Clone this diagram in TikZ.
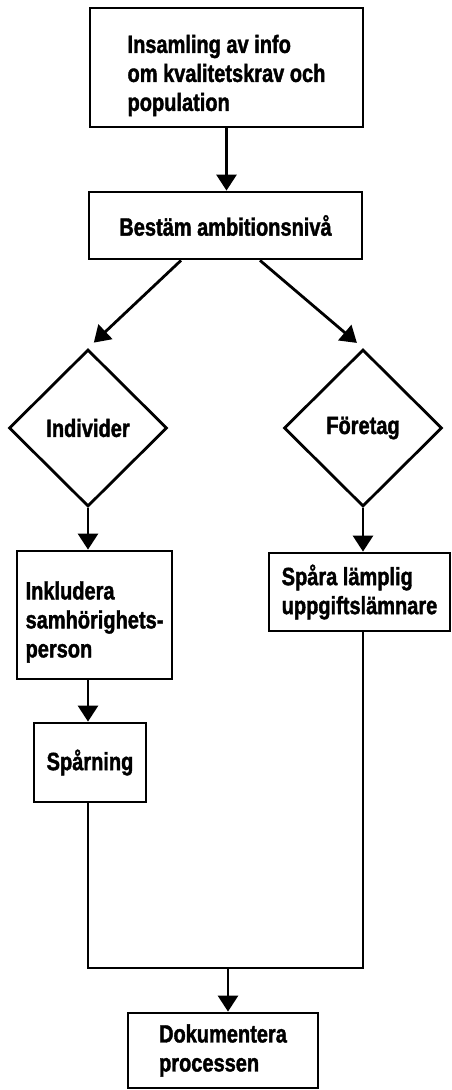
\documentclass[tikz,border=0pt]{standalone}
\usepackage{fontspec}
\setmainfont{Liberation Sans}[FakeStretch=0.8,BoldFeatures={FakeBold=1.5}]
\usetikzlibrary{arrows.meta}
\usetikzlibrary{shapes.geometric}

\begin{document}
\begin{tikzpicture}[x=1pt,y=-1pt,>={Triangle[width=20pt,length=16pt]},line width=2.8pt,
    font=\fontsize{25}{29}\selectfont\bfseries,
    main node/.style={rectangle,draw,inner sep=0pt,align=left},
    decision node/.style={diamond,draw,inner sep=0pt,minimum width=158pt,minimum height=157pt}]

    \useasboundingbox (0,0) rectangle (452,1090);

    \node[main node,minimum width=273pt,minimum height=119pt] (insamling) at (226.5,67.5)
        {\rule{0pt}{34pt}Insamling av info\\om kvalitetskrav och\\population};
    \node[main node,minimum width=273pt,minimum height=67pt] (ambition) at (225.5,225.5) {Bestäm ambitionsnivå};

    \node[decision node] (individer) at (88,428) {Individer};
    \node[decision node] (foretag) at (363,428) {Företag};

    \node[main node,minimum width=155pt,minimum height=128pt] (inkludera) at (94.5,615)
        {\rule{0pt}{32pt}Inkludera\\samhörighets-\\person};
    \node[main node,minimum width=112pt,minimum height=79pt] (sparning) at (90,762.5) {Spårning};
    \node[main node,minimum width=181pt,minimum height=78pt] (lamplig) at (359.5,592)
        {Spåra lämplig\\uppgiftslämnare};
    \node[main node,minimum width=190pt,minimum height=75pt] (dokumentera) at (223,1050.5)
        {Dokumentera\\processen};

    \coordinate (join) at (228,968);

    \draw[->] (insamling.south) -- (insamling.south |- ambition.north);
    \draw[->,shorten >=8pt] ([xshift=-44.5pt]ambition.south) -- (individer.north);
    \draw[->,shorten >=8pt] ([xshift=34.5pt]ambition.south) -- (foretag.north);
    \draw[->] (individer.south) -- (individer.south |- inkludera.north);
    \draw[->] (foretag.south) -- (foretag.south |- lamplig.north);
    \draw[->] (individer.south |- inkludera.south) -- (individer.south |- sparning.north);
    \draw (individer.south |- sparning.south) |- (join) -| (foretag.south |- lamplig.south);
    \draw[->] (join) -- (join |- dokumentera.north);

\end{tikzpicture}
\end{document}
